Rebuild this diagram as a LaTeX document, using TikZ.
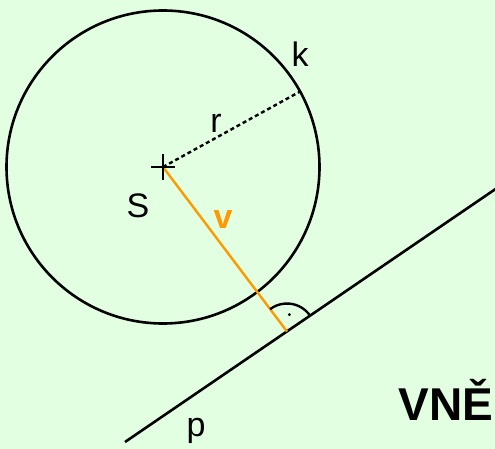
\documentclass[tikz,border=0pt]{standalone}
\usepackage{fontspec}
\setmainfont{Liberation Sans}
\usetikzlibrary{calc,angles}
\definecolor{bgGreen}{RGB}{226,255,226}
\definecolor{vOrange}{RGB}{255,153,0}

\begin{document}
\begin{tikzpicture}[
  x=1pt, y=-1pt,
  every node/.style={font=\fontsize{34}{40}\selectfont, inner sep=0pt, anchor=base},
  thick line/.style={draw, line width=2.6pt},
  radius line/.style={draw, line width=2.4pt, dash pattern=on 4pt off 3pt},
  normal line/.style={draw=vOrange, line width=2.4pt}
]
\fill[bgGreen] (0,0) rectangle (495,449);
\useasboundingbox (0,0) rectangle (495,449);

% points
\coordinate (S) at (163,167);
\coordinate (T) at (301,91);
\coordinate (pA) at (125,442);
\coordinate (pB) at (497,188);
\coordinate (F) at (287,331.5);

% circle k, line p
\draw[thick line] (S) circle (156.5);
\draw[thick line] (pA) -- (pB);
\draw[radius line] (S) -- (T);
\draw[normal line] (S) -- (F);
\draw[line width=2.4pt] ($(S)+(-12,0)$) -- ($(S)+(12,0)$)
  ($(S)+(0,-13)$) -- ($(S)+(0,13)$);

% right angle
\pic[draw, line width=2.4pt, angle radius=28pt] {angle = pB--F--S};
\fill ($(F)!17pt!-45:(S)$) circle (1.6);

% labels
\node (kLab) at (300,67) {k};
\node (rLab) at (216,133) {r};
\node (sLab) at (138,218) {S};
\node[text=vOrange, font=\fontsize{34}{40}\selectfont\bfseries] (vLab) at (223,228) {v};
\node (pLab) at (196,436) {p};
\node[font=\fontsize{46}{52}\selectfont\bfseries] (outLab) at (446,420) {VNĚ};
\end{tikzpicture}
\end{document}
